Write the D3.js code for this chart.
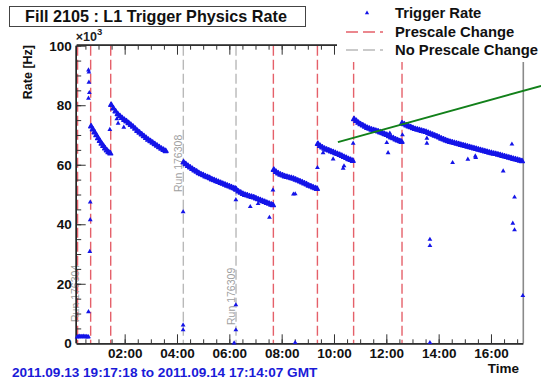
<!DOCTYPE html>
<html>
<head>
<meta charset="utf-8">
<script src="https://cdn.jsdelivr.net/npm/d3@7"></script>
<style>
  html, body { margin: 0; padding: 0; background: #fff; }
  svg { display: block; font-family: "Liberation Sans", Arial, Helvetica, sans-serif; font-weight: bold; }
</style>
</head>
<body>
<svg id="chart" width="541" height="380"></svg>
<script>
// ---- Fill 2105 : L1 trigger physics rate (kHz), times in GMT on 2011-09-14 ----

// dense rate readings, one list per stable period between prescale changes
const ratePeriodA = [["00:43",72.9],["00:47",71.9],["00:51",70.9],["00:55",69.9],["00:59",68.9],["01:03",68.0],["01:07",67.1],["01:11",66.3],["01:15",65.5],["01:19",64.8],["01:23",64.2],["01:27",63.8]];
const ratePeriodB = [["01:29",80.1],["01:34",78.9],["01:39",77.9],["01:44",77.0],["01:49",76.3],["01:54",75.7],["01:59",75.1],["02:04",74.6],["02:09",74.0],["02:14",73.4],["02:19",72.8],["02:24",72.1],["02:29",71.4],["02:34",70.8],["02:39",70.2],["02:44",69.6],["02:49",69.0],["02:54",68.4],["02:59",67.9],["03:04",67.4],["03:09",66.9],["03:14",66.4],["03:19",65.9],["03:24",65.4],["03:29",65.0],["03:34",64.6]];
const ratePeriodC = [["04:15",60.8],["04:20",60.2],["04:25",59.6],["04:30",59.1],["04:35",58.6],["04:40",58.1],["04:45",57.7],["04:50",57.2],["04:55",56.8],["05:00",56.5],["05:05",56.1],["05:10",55.8],["05:15",55.5],["05:20",55.1],["05:25",54.8],["05:30",54.5],["05:35",54.2],["05:40",53.9],["05:45",53.6],["05:50",53.3],["05:55",53.0],["06:00",52.7],["06:05",52.4],["06:10",52.1],["06:14",51.9]];
const ratePeriodD = [["06:16",51.6],["06:21",51.0],["06:26",50.6],["06:31",50.2],["06:36",49.9],["06:41",49.7],["06:46",49.4],["06:51",49.2],["06:56",49.0],["07:01",48.7],["07:06",48.4],["07:11",48.1],["07:16",47.8],["07:21",47.5],["07:26",47.2],["07:31",46.9],["07:36",46.6],["07:40",46.4]];
const ratePeriodE = [["07:42",58.3],["07:47",57.6],["07:52",57.1],["07:57",56.7],["08:02",56.4],["08:07",56.1],["08:12",55.9],["08:17",55.7],["08:22",55.5],["08:27",55.3],["08:32",55.0],["08:37",54.7],["08:42",54.4],["08:47",54.1],["08:52",53.7],["08:57",53.4],["09:02",53.0],["09:07",52.7],["09:12",52.4],["09:17",52.1],["09:21",51.9]];
const ratePeriodF = [["09:23",67.0],["09:28",66.3],["09:33",65.8],["09:38",65.4],["09:43",65.1],["09:48",64.8],["09:53",64.5],["09:58",64.2],["10:03",63.9],["10:08",63.6],["10:13",63.3],["10:18",63.0],["10:23",62.6],["10:28",62.3],["10:33",61.9],["10:38",61.6],["10:43",61.3]];
const ratePeriodG = [["10:46",75.3],["10:51",74.7],["10:56",74.1],["11:01",73.6],["11:06",73.2],["11:11",72.8],["11:16",72.4],["11:21",72.1],["11:26",71.8],["11:31",71.6],["11:36",71.4],["11:41",71.2],["11:46",70.9],["11:51",70.6],["11:56",70.3],["12:01",70.0],["12:06",69.6],["12:11",69.2],["12:16",68.9],["12:21",68.5],["12:26",68.2],["12:31",67.9],["12:35",67.7]];
const ratePeriodH = [["12:36",73.9],["12:41",73.6],["12:46",73.2],["12:51",72.9],["12:56",72.6],["13:01",72.3],["13:06",72.0],["13:11",71.8],["13:16",71.6],["13:21",71.4],["13:26",71.2],["13:31",71.0],["13:36",70.7],["13:41",70.4],["13:46",70.1],["13:51",69.8],["13:56",69.5],["14:01",69.2],["14:06",68.8],["14:11",68.5],["14:16",68.2],["14:21",67.9],["14:26",67.7],["14:31",67.5],["14:36",67.3],["14:41",67.1],["14:46",66.9],["14:51",66.7],["14:56",66.5],["15:01",66.3],["15:06",66.1],["15:11",65.9],["15:16",65.7],["15:21",65.5],["15:26",65.3],["15:31",65.1],["15:36",64.9],["15:41",64.7],["15:46",64.5],["15:51",64.3],["15:56",64.1],["16:01",63.9],["16:06",63.7],["16:11",63.6],["16:16",63.4],["16:21",63.2],["16:26",63.0],["16:31",62.8],["16:36",62.6],["16:41",62.4],["16:46",62.2],["16:51",62.0],["16:56",61.8],["17:01",61.6],["17:06",61.4],["17:11",61.2]];

// isolated readings: the low-rate start, transients at run boundaries, dips
const rateScattered = [["00:11",2.1],["00:13",2.3],["00:15",2.2],["00:17",2.4],["00:19",2.2],["00:21",2.3],["00:23",2.2],["00:25",2.4],["00:27",2.2],["00:29",2.3],["00:31",2.2],["00:33",2.3],["00:35",2.1],["00:37",2.2],
  ["00:37",91.8],["00:38",91.1],["00:38",87.7],["00:39",84.2],["00:37",82.3],["00:41",47.4],["00:41",41.5],["00:40",30.8],["00:37",10.6],
  ["01:26",71.8],["01:42",75.4],["01:45",73.9],["01:58",72.6],
  ["04:14",44.2],["04:14",6.1],["04:14",4.5],
  ["06:15",48.2],["06:15",12.9],["06:15",4.5],["06:11",0.1],["06:48",45.9],["07:06",46.9],["07:32",42.3],["07:40",51.5],
  ["08:27",50.1],["08:31",50.2],["08:31",0.2],
  ["09:22",59.0],["09:35",64.0],["09:58",61.9],["10:21",58.8],["10:23",59.6],
  ["10:44",67.2],["12:01",67.4],["12:04",64.0],["12:08",70.6],["12:37",70.0],
  ["13:33",68.9],["13:33",67.2],["13:40",34.9],["13:40",32.8],["13:40",0.2],["14:32",60.7],["15:07",61.8],["15:24",62.9],["15:25",62.4],["16:28",57.9],["16:48",66.9],["16:50",40.3],["16:54",49.1],["16:54",38.1],["17:13",16.0]];

const prescaleChanges = ["00:12","00:42","01:28","07:41","09:22","10:45","12:36"];
const noPrescaleChanges = ["04:14:30","06:15:20"];
const runLabels = [["00:12","Run 176304",322],["04:14:30","Run 176308",192],["06:15:20","Run 176309",325]];
const yTickValues = [0, 20, 40, 60, 80, 100];
const legendEntries = ["Trigger Rate", "Prescale Change", "No Prescale Change"];
const pointerLine = [["10:09",67.6],["17:55",86.5]];

const T = s => { const p = s.split(":").map(Number); return new Date(Date.UTC(2011, 8, 14, p[0], p[1], p[2] || 0)); };

const svg = d3.select("#chart");
const x = d3.scaleUtc().domain([T("00:10"), T("17:14:07")]).range([76.7, 523.3]);
const y = d3.scaleLinear().domain([0, 100]).range([343.3, 45.7]);
const [x0, x1] = x.range(), [yb, yt] = y.range();

const blue = "#1414e8", red = "#e5606a", grey = "#b9b9b9";

// right edge of the frame
svg.append("line").attr("x1", x1).attr("x2", x1).attr("y1", yt).attr("y2", yb).attr("stroke", "#8a8a8a").attr("stroke-width", 1.6);

// vertical markers
const vlines = svg.append("g");
vlines.append("g").selectAll("line").data(noPrescaleChanges).join("line")
  .attr("x1", d => x(T(d))).attr("x2", d => x(T(d))).attr("y1", yt).attr("y2", yb)
  .attr("stroke", grey).attr("stroke-width", 1.4).attr("stroke-dasharray", "10,4");
vlines.append("g").selectAll("line").data(prescaleChanges).join("line")
  .attr("x1", d => x(T(d))).attr("x2", d => x(T(d))).attr("y1", yt).attr("y2", yb)
  .attr("stroke", red).attr("stroke-width", 1.4).attr("stroke-dasharray", "10,4");

// run labels
svg.append("g").selectAll("text").data(runLabels).join("text")
  .attr("transform", (d, i) => `translate(${x(T(d[0])) + (i === 0 ? 1.5 : -1)},${d[2]}) rotate(-90)`)
  .attr("font-size", 10.5).attr("font-weight", "normal").attr("fill", "#a0a0a0")
  .text(d => d[1]);

// axes (ticks point into the frame)
const minorX = d3.utcMinute.every(30).range(x.domain()[0], x.domain()[1]);
const majorX = d3.utcHour.every(2).range(x.domain()[0], x.domain()[1]);
const axisB = svg.append("g").attr("transform", `translate(0,${yb})`);
axisB.append("g").call(d3.axisBottom(x).tickValues(minorX).tickSize(-4).tickFormat(""));
axisB.append("g").call(d3.axisBottom(x).tickValues(majorX).tickSize(-9).tickPadding(5).tickFormat(d3.utcFormat("%H:%M")));
const axisT = svg.append("g").attr("transform", `translate(0,${yt})`);
axisT.append("g").call(d3.axisTop(x).tickValues(minorX).tickSize(-4).tickFormat(""));
axisT.append("g").call(d3.axisTop(x).tickValues(majorX).tickSize(-9).tickFormat(""));
const axisL = svg.append("g").attr("transform", `translate(${x0},0)`);
axisL.append("g").call(d3.axisLeft(y).tickValues(d3.range(0, 101, 5)).tickSize(-4.5).tickFormat(""));
axisL.append("g").call(d3.axisLeft(y).tickValues(yTickValues).tickSize(-9).tickPadding(5));
axisB.selectAll(".domain").attr("d", `M${x0},0.5H${x1}`);
axisT.selectAll(".domain").attr("d", `M${x0},-0.5H${x1}`);
axisL.selectAll(".domain").attr("d", `M-0.5,${yt}V${yb}`);
svg.selectAll(".domain").attr("stroke", "#222").attr("stroke-width", 1.3);
svg.selectAll(".tick line").attr("stroke", "#333").attr("stroke-width", 1);
svg.selectAll(".tick text").attr("font-size", 13.5).attr("font-family", "Liberation Sans, Arial, sans-serif").attr("font-weight", "bold").attr("fill", "#111");

// data points: the continuous periods merge into a thick band, isolated readings stay small
const tri = d3.symbol().type(d3.symbolTriangle).size(10);
const periods = [ratePeriodA, ratePeriodB, ratePeriodC, ratePeriodD, ratePeriodE, ratePeriodF, ratePeriodG, ratePeriodH].flat();
svg.append("g").selectAll("path").data(periods).join("path")
  .attr("transform", d => `translate(${x(T(d[0]))},${y(d[1])})`)
  .attr("d", tri).attr("fill", blue).attr("stroke", blue).attr("stroke-width", 1.4).attr("stroke-linejoin", "round");
svg.append("g").selectAll("path").data(rateScattered).join("path")
  .attr("transform", d => `translate(${x(T(d[0]))},${y(d[1])})`)
  .attr("d", tri).attr("fill", blue);

// axis annotations
const ex = svg.append("text").attr("x", x0 - 1).attr("y", 41).attr("font-size", 12.5).attr("fill", "#222");
ex.append("tspan").text("\u00d710");
ex.append("tspan").attr("dy", -6).attr("font-size", 9.5).text("3");
svg.append("text").attr("transform", "translate(32,45) rotate(-90)").attr("text-anchor", "end")
  .attr("font-size", 12.5).attr("fill", "#111").text("Rate [Hz]");
svg.append("text").attr("x", 519).attr("y", 373).attr("text-anchor", "end").attr("font-size", 13.5).attr("fill", "#111").text("Time");
svg.append("text").attr("x", 12).attr("y", 377).attr("font-size", 13.6).attr("fill", "#1a1ad8")
  .text("2011.09.13 19:17:18 to 2011.09.14 17:14:07 GMT");

// title box
svg.append("rect").attr("x", 9.5).attr("y", 6.5).attr("width", 296).attr("height", 20).attr("fill", "#fff").attr("stroke", "#444").attr("stroke-width", 1);
svg.append("text").attr("x", 156).attr("y", 21.8).attr("text-anchor", "middle").attr("font-size", 16.2).attr("fill", "#111")
  .text("Fill 2105 : L1 Trigger Physics Rate");

// legend
const lg = svg.append("g");
lg.append("rect").attr("x", 337).attr("y", 0).attr("width", 204).attr("height", 62).attr("fill", "#fff");
lg.append("path").attr("transform", "translate(367,13)").attr("d", d3.symbol().type(d3.symbolTriangle).size(8)).attr("fill", blue);
lg.append("line").attr("x1", 346).attr("x2", 383).attr("y1", 32).attr("y2", 32).attr("stroke", red).attr("stroke-width", 1.4).attr("stroke-dasharray", "12,5");
lg.append("line").attr("x1", 346).attr("x2", 383).attr("y1", 50).attr("y2", 50).attr("stroke", grey).attr("stroke-width", 1.4).attr("stroke-dasharray", "12,5");
lg.selectAll("text").data(legendEntries).join("text")
  .attr("x", 395).attr("y", (d, i) => 18 + i * 18.5).attr("font-size", 14.8).attr("fill", "#111").text(d => d);

// pointer line, drawn last so it crosses the legend
svg.append("line")
  .attr("x1", x(T(pointerLine[0][0]))).attr("y1", y(pointerLine[0][1]))
  .attr("x2", x(T(pointerLine[1][0]))).attr("y2", y(pointerLine[1][1]))
  .attr("stroke", "#12801a").attr("stroke-width", 2);
</script>
</body>
</html>
